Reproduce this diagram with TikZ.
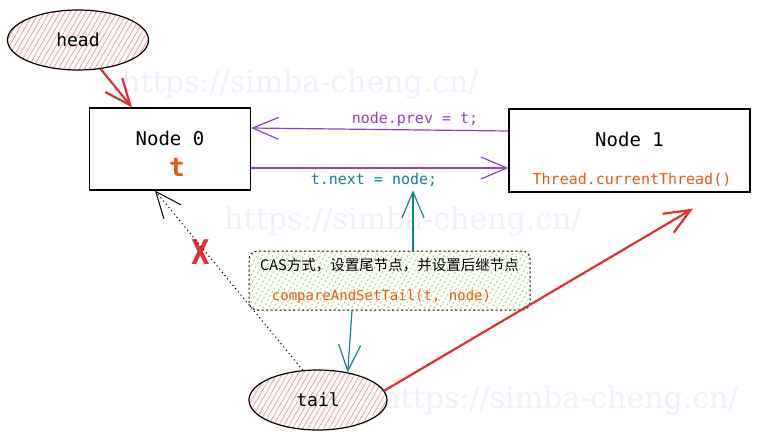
\documentclass[tikz,border=0pt]{standalone}
\usepackage{fontspec}
\setmainfont{DejaVu Sans}
\setmonofont{DejaVu Sans Mono}
\newfontfamily\cjk{Noto Sans CJK SC}
\newfontfamily\wmfont{DejaVu Serif}
\usepackage{xcolor}
\usepackage{tikz}
\usetikzlibrary{positioning,arrows.meta,shapes.geometric,patterns.meta}

\definecolor{sketchred}{HTML}{E03131}
\definecolor{sketchpurple}{HTML}{9340C0}
\definecolor{sketchteal}{HTML}{13808F}
\definecolor{sketchorange}{HTML}{E8590C}
\definecolor{sketchgreen}{HTML}{82C91E}
\definecolor{wmcolor}{HTML}{EFF0FF}

\begin{document}
\begin{tikzpicture}[x=1pt, y=-1pt,
    box/.style={draw, line width=1.2pt, inner sep=0pt},
    blob/.style={ellipse, draw, line width=1.2pt, inner sep=0pt, minimum height=60pt,
        pattern={Lines[angle=60,distance=4.5pt,line width=0.8pt]}, pattern color=sketchred!50,
        font=\ttfamily\fontsize{18}{20}\selectfont},
    code/.style={font=\ttfamily\fontsize{15}{17}\selectfont},
    link/.style={line width=1.2pt, -{Straight Barb[length=26pt,width=22pt]}},
    wmark/.style={text=wmcolor, font=\wmfont\fontsize{30}{32}\selectfont}]
\useasboundingbox (0,0) rectangle (760,440);

\node[wmark] (wm1) at (300,84) {https://simba-cheng.cn/};
\node[wmark] (wm2) at (403,221) {https://simba-cheng.cn/};
\node[wmark] (wm3) at (560,400) {https://simba-cheng.cn/};

\node[blob, minimum width=141pt] (head) at (78,40) {head};

\node[box, minimum width=161pt, minimum height=82pt] (node0) at (170,149) {};
\node[font=\ttfamily\fontsize{19}{21}\selectfont] (node0name) at (170,138) {Node 0};
\node[text=sketchorange, font=\ttfamily\bfseries\fontsize{26}{28}\selectfont] (node0t) at (177,167) {t};

\node[box, minimum width=241pt, minimum height=83pt] (node1) at (629.5,150.5) {};
\node[font=\ttfamily\fontsize{19}{21}\selectfont] (node1name) at (629.5,139.5) {Node 1};
\node[code, text=sketchorange] (node1thread) at (632,180) {Thread.currentThread()};

\node[code, text=sketchpurple] (prevlabel) at (415,119) {node.prev = t;};
\node[code, text=sketchteal] (nextlabel) at (374,180) {t.next = node;};

\node[box, line width=1pt, rounded corners=8pt, dash pattern=on 2pt off 2.5pt,
    minimum width=281pt, minimum height=59pt,
    pattern={Lines[angle=60,distance=4.5pt,line width=0.8pt]}, pattern color=sketchgreen!75] (cas) at (389.5,280.5) {};
\node[font=\cjk\fontsize{14.5}{16}\selectfont] (castext) at (389.5,265) {CAS方式，设置尾节点，并设置后继节点};
\node[text=sketchorange, font=\ttfamily\fontsize{14}{16}\selectfont] (cascall) at (381.5,297) {compareAndSetTail(t, node)};

\node[blob, minimum width=138pt] (tail) at (318,400) {tail};

\node[text=sketchred, font=\bfseries\fontsize{34}{36}\selectfont] (cross) at (201,252) {\scalebox{0.7}[1]{X}};

\draw[link, sketchred, line width=2.2pt] (head.-52) -- ([xshift=-38pt]node0.north);
\draw[link, sketchpurple] ([yshift=19.5pt]node1.west) -- ([yshift=21pt]node0.east);
\draw[link, sketchpurple] ([yshift=-19pt]node0.east) -- ([yshift=-17.5pt]node1.west);
\draw[link, sketchteal] ([xshift=23.5pt]cas.north) -- ([xshift=23.5pt]cas.north |- nextlabel.south);
\draw[link, sketchteal] ([xshift=-37.5pt]cas.south) -- (tail.43);
\draw[link, sketchred, line width=2.2pt] (tail.8) -- ([xshift=63.5pt,yshift=-16pt]node1.south);
\draw[link, line width=1pt, dash pattern=on 1.2pt off 3pt] (tail.117) -- ([xshift=-15pt]node0.south);

\end{tikzpicture}
\end{document}
